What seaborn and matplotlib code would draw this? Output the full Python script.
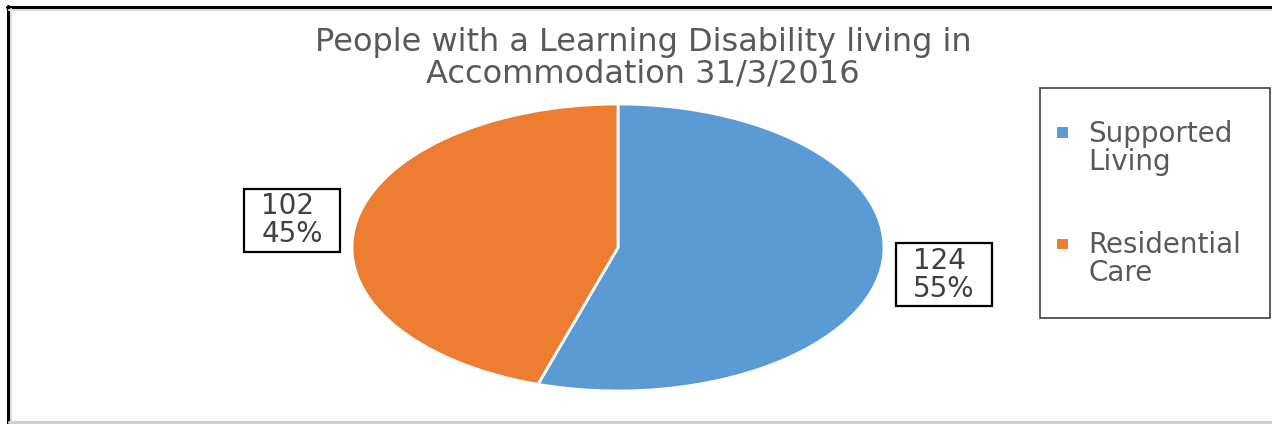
import matplotlib
matplotlib.use("Agg")
import matplotlib.pyplot as plt
import seaborn as sns
from matplotlib.patches import Rectangle
from matplotlib.legend_handler import HandlerPatch
from matplotlib.lines import Line2D
from matplotlib.path import Path

# Data
categories = ["Supported Living", "Residential Care"]
legend_labels = ["Supported\nLiving", "Residential\nCare"]
counts = [124, 102]
title = "People with a Learning Disability living in\nAccommodation 31/3/2016"

sns.set_theme(style="white")
plt.rcParams["font.family"] = ["DejaVu Sans"]

palette = sns.color_palette(["#5B9BD5", "#ED7D31"])
TITLE_COLOR = "#595959"
LABEL_COLOR = "#404040"

W, H = 1272, 424
fig = plt.figure(figsize=(W / 100, H / 100), dpi=100)
fig.patch.set_facecolor("white")


def fx(px):
    return px / W


def fy(py):
    return 1 - py / H


# Pie axes: stretched so the pie is drawn as a wide ellipse
cx, cy, rx, ry = 618, 247.5, 266, 143.5
ax = fig.add_axes([fx(cx - rx), fy(cy + ry), 2 * rx / W, 2 * ry / H])

total = sum(counts)


def value_and_pct(pct):
    n = int(round(pct * total / 100))
    return f"{n}\n{pct:.0f}%"


wedges, texts, autotexts = ax.pie(
    counts,
    colors=palette,
    startangle=90,
    counterclock=False,
    autopct=value_and_pct,
    pctdistance=1.24,
    wedgeprops=dict(edgecolor="white", linewidth=2),
)
ax.set_aspect("auto")
ax.set_xlim(-1, 1)
ax.set_ylim(-1, 1)
ax.axis("off")


def label_box(x0, y0, width, height, mutation_size, *args):
    px, py = 0.62 * mutation_size, 0.12 * mutation_size
    verts = [(x0 - px, y0 - py), (x0 + width + px, y0 - py),
             (x0 + width + px, y0 + height + py), (x0 - px, y0 + height + py),
             (x0 - px, y0 - py)]
    codes = [Path.MOVETO, Path.LINETO, Path.LINETO, Path.LINETO, Path.CLOSEPOLY]
    return Path(verts, codes)


for t in autotexts:
    t.set_fontsize(20)
    t.set_color(LABEL_COLOR)
    t.set_multialignment("left")
    t.set_linespacing(1.0)
    t.set_bbox(dict(boxstyle=label_box, facecolor="white", edgecolor="black", linewidth=1.6))

# Title
fig.text(fx(643), fy(58), title, ha="center", va="center", fontsize=23,
         color=TITLE_COLOR, linespacing=1.02)

# Legend with square markers aligned to the first label line
SHIFT = 0.6


def square_marker(legend, orig_handle, xdescent, ydescent, width, height, fontsize):
    s = 0.38 * fontsize
    return Rectangle((-xdescent + (width - s) / 2,
                      -ydescent + (height - s) / 2 + SHIFT * fontsize), s, s)


handles = [Rectangle((0, 0), 1, 1, facecolor=c, edgecolor="none") for c in palette]
leg = fig.legend(
    handles, legend_labels,
    loc="upper left", bbox_to_anchor=(fx(1052), fy(120)),
    frameon=False, prop=dict(size=20), labelcolor=TITLE_COLOR,
    handlelength=0.75, handletextpad=0.55, labelspacing=2.0,
    borderpad=0, borderaxespad=0,
    handler_map={Rectangle: HandlerPatch(patch_func=square_marker)},
)
for t in leg.get_texts():
    t.set_linespacing(0.99)

fig.add_artist(Rectangle((fx(1040), fy(318)), (1270 - 1040) / W, (318 - 88) / H,
                         transform=fig.transFigure, fill=False,
                         edgecolor="#404040", linewidth=1.2))

# Outer chart frame
fig.add_artist(Line2D([fx(7), 1], [fy(6.5), fy(6.5)], color="black", linewidth=2.2))
fig.add_artist(Line2D([fx(7.5), fx(7.5)], [fy(6), 0], color="black", linewidth=2.2))
fig.add_artist(Line2D([fx(9), 1], [fy(9.5), fy(9.5)], color="#dddddd", linewidth=1.5))
fig.add_artist(Line2D([fx(10.5), fx(10.5)], [fy(9), 0], color="#dddddd", linewidth=1.5))
fig.add_artist(Line2D([fx(9), 1], [fy(421.5), fy(421.5)], color="#d0d0d0", linewidth=2.2))

fig.savefig("out.png", dpi=100, facecolor="white")
